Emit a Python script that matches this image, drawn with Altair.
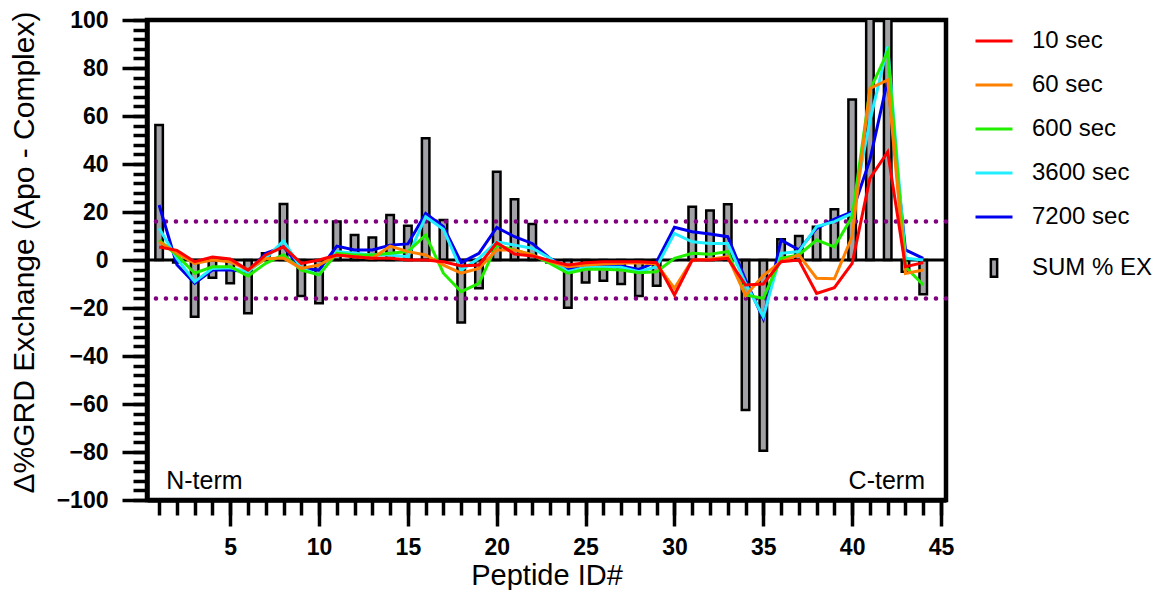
import altair as alt
import pandas as pd

# ---------------- data ----------------
peptide_ids = list(range(1, 45))

sum_ex = [56.3, -1.0, -23.6, -7.4, -9.7, -22.2, 2.8, 23.3, -15.0, -18.0,
          16.0, 10.4, 9.4, 18.8, 14.3, 50.7, 16.7, -26.0, -11.8, 36.8,
          25.3, 15.0, -1.0, -19.9, -9.4, -8.6, -10.0, -15.0, -10.7, 0.0,
          22.2, 20.6, 23.2, -62.5, -79.5, 8.6, 10.0, 13.9, 21.1, 66.9,
          105.0, 105.0, -4.9, -14.3]

s10 = [5.4, 4.0, -0.7, 1.2, 0.4, -4.2, 2.1, 5.5, -1.4, 0.0,
       2.1, 1.4, 0.7, 0.7, 0.0, 0.0, -0.7, -2.5, -2.1, 7.2,
       2.5, 1.7, -0.3, -2.1, -1.1, -0.7, -0.7, -0.7, -1.1, -14.6,
       0.0, 0.0, 0.7, -10.4, -10.0, -0.7, 0.0, -13.9, -11.5, -1.4,
       34.0, 45.0, -2.8, -1.1]

s60 = [7.6, 2.8, -1.4, 0.0, -0.7, -4.2, 0.5, 0.8, -3.5, -2.1,
       2.1, 1.4, 0.7, 5.8, 3.5, 2.1, -2.1, -5.5, -3.5, 4.2,
       4.2, 2.1, -0.7, -2.8, -2.1, -1.7, -1.4, -1.1, -1.7, -11.8,
       0.0, 0.3, 1.4, -14.8, -6.5, -0.7, 2.1, -7.6, -7.8, 9.7,
       71.5, 75.0, -5.6, -4.2]

s600 = [8.3, 2.0, -5.5, -2.8, -2.8, -6.7, -1.4, 2.2, -4.2, -6.2,
        2.8, 2.1, 2.1, 2.8, 3.5, 10.4, -5.5, -13.2, -9.7, 6.2,
        4.2, 2.1, -1.4, -5.5, -3.9, -3.9, -4.2, -5.3, -4.9, 0.7,
        2.8, 2.4, 3.5, -14.6, -16.0, 0.7, 2.1, 8.3, 5.5, 18.0,
        70.8, 86.8, -2.8, -10.4]

s3600 = [13.2, 0.7, -9.0, -3.5, -3.2, -4.9, 0.7, 8.0, -3.5, -6.2,
         3.5, 2.8, 2.1, 2.1, 1.4, 18.0, 12.8, -4.2, 0.7, 7.6,
         6.2, 4.9, 0.7, -4.9, -3.0, -3.0, -3.0, -4.9, -2.8, 11.1,
         7.6, 6.9, 6.9, -9.7, -23.6, 2.8, 3.5, 13.9, 16.0, 19.4,
         58.0, 88.9, 0.7, 0.0]

s7200 = [22.9, -2.0, -9.7, -4.2, -4.2, -4.9, 2.8, 5.5, -3.5, -4.2,
         5.8, 4.2, 4.2, 6.2, 6.7, 19.4, 13.9, -1.1, 2.8, 13.6,
         9.7, 6.9, 0.7, -3.5, -2.5, -2.0, -2.5, -3.9, -0.7, 13.6,
         11.8, 10.8, 9.7, -8.3, -24.5, 8.3, 4.2, 13.2, 17.0, 20.0,
         41.7, 75.0, 4.2, 0.7]

series_names = ["10 sec", "60 sec", "600 sec", "3600 sec", "7200 sec"]
series_colors = ["#ff0000", "#ff8000", "#22ee00", "#22eeff", "#0000ee"]
series_values = [s10, s60, s600, s3600, s7200]

bar_label = "SUM % EX"
thresholds = [16, -16]
zero_line = [0]

annot_left = {"t": ["N-term"], "x": [1.4], "y": [-95.4]}
annot_right = {"t": ["C-term"], "x": [44.1], "y": [-95.4]}

x_major = list(range(5, 46, 5))
x_minor = list(range(1, 46))
y_major = list(range(-100, 101, 20))
y_minor = list(range(-100, 101, 4))

y_title = "\u0394%GRD Exchange (Apo - Complex)"
x_title = "Peptide ID#"

# ---------------- tables ----------------
bars_df = pd.DataFrame({"pid": peptide_ids, "sum": sum_ex, "kind": bar_label})

rows = []
# draw order: longest times first so 10 sec ends on top
for name, vals in reversed(list(zip(series_names, series_values))):
    for pid, v in zip(peptide_ids, vals):
        rows.append({"pid": pid, "val": v, "series": name})
lines_df = pd.DataFrame(rows)

thr_df = pd.DataFrame({"y": thresholds})
zero_df = pd.DataFrame({"y": zero_line})

FONT = "Liberation Sans"

xs = alt.Scale(domain=[0.6, 45], nice=False, zero=False)
ys = alt.Scale(domain=[-100, 100], nice=False)

x_axis_major = alt.Axis(
    values=x_major, tickCount=200, tickSize=26, format="d",
    labelOverlap=False, labelFlush=False, labelPadding=10,
    titleBaseline="alphabetic", titleY=84, grid=False, orient="bottom",
)
x_axis_minor = alt.Axis(
    values=x_minor, tickCount=200, tickSize=15, labels=False,
    domain=False, title=None, grid=False, orient="bottom",
)
y_axis_major = alt.Axis(
    values=y_major, tickCount=200, tickSize=25, format="d",
    labelOverlap=False, labelFlush=False, labelPadding=14,
    titlePadding=17, titleFontSize=30, titleY=232, grid=False, orient="left",
)
y_axis_minor = alt.Axis(
    values=y_minor, tickCount=200, tickSize=14, labels=False,
    domain=False, title=None, grid=False, orient="left",
)

legend_common = dict(
    title=None,
    symbolSize=1369,
    labelFontSize=24,
    labelFont=FONT,
    labelOffset=18,
    padding=0,
    orient="none",
    legendX=827,
)

bars = alt.Chart(bars_df).mark_bar(size=7.5, stroke="black", strokeWidth=2.5, clip=True).encode(
    x=alt.X("pid:Q", scale=xs, axis=x_axis_major, title=x_title),
    y=alt.Y("sum:Q", scale=ys, axis=y_axis_major, title=y_title),
    fill=alt.Fill(
        "kind:N",
        scale=alt.Scale(domain=[bar_label], range=["#a2a2a6"]),
        legend=alt.Legend(
            symbolType="M-0.17,-0.47H0.17V0.47H-0.17Z",
            symbolStrokeColor="black",
            symbolStrokeWidth=2.5,
            symbolFillColor="#a2a2a6",
            legendY=228,
            **legend_common,
        ),
    ),
)

zero = alt.Chart(zero_df).mark_rule(color="black", strokeWidth=3).encode(
    y=alt.Y("y:Q", scale=ys, axis=y_axis_minor)
)

thr = alt.Chart(thr_df).mark_rule(
    color="#800080", strokeWidth=4.5, strokeDash=[0.1, 9.9], strokeCap="round"
).encode(y=alt.Y("y:Q", scale=ys, axis=None))

lines = alt.Chart(lines_df).mark_line(strokeWidth=3, clip=True).encode(
    x=alt.X("pid:Q", scale=xs, axis=x_axis_minor),
    y=alt.Y("val:Q", scale=ys, axis=None),
    color=alt.Color(
        "series:N",
        scale=alt.Scale(domain=series_names, range=series_colors),
        legend=alt.Legend(
            symbolType="stroke",
            symbolStrokeWidth=3,
            rowPadding=12,
            legendY=1,
            **legend_common,
        ),
    ),
)

text_left = alt.Chart(pd.DataFrame(annot_left)).mark_text(
    fontSize=25, font=FONT, baseline="alphabetic", align="left", color="black"
).encode(x=alt.X("x:Q", scale=xs, axis=None), y=alt.Y("y:Q", scale=ys, axis=None), text="t:N")

text_right = alt.Chart(pd.DataFrame(annot_right)).mark_text(
    fontSize=25, font=FONT, baseline="alphabetic", align="right", color="black"
).encode(x=alt.X("x:Q", scale=xs, axis=None), y=alt.Y("y:Q", scale=ys, axis=None), text="t:N")

chart = alt.layer(bars, zero, thr, lines, text_left, text_right).resolve_axis(
    x="independent", y="independent"
).properties(
    width=799,
    height=480,
    autosize=alt.AutoSizeParams(type="none"),
    padding={"left": 139, "top": 12, "right": 211, "bottom": 90},
).configure_view(
    stroke="black", strokeWidth=4.5
).configure_axis(
    domainColor="black",
    domainWidth=4.5,
    tickColor="black",
    tickWidth=3.5,
    labelFont=FONT,
    labelFontSize=23,
    labelFontWeight="bold",
    labelColor="black",
    titleFont=FONT,
    titleFontSize=29,
    titleFontWeight="normal",
    titleColor="black",
).configure_legend(
    labelColor="black",
)

chart.save("out.html", embed_options={"renderer": "svg", "actions": False})
